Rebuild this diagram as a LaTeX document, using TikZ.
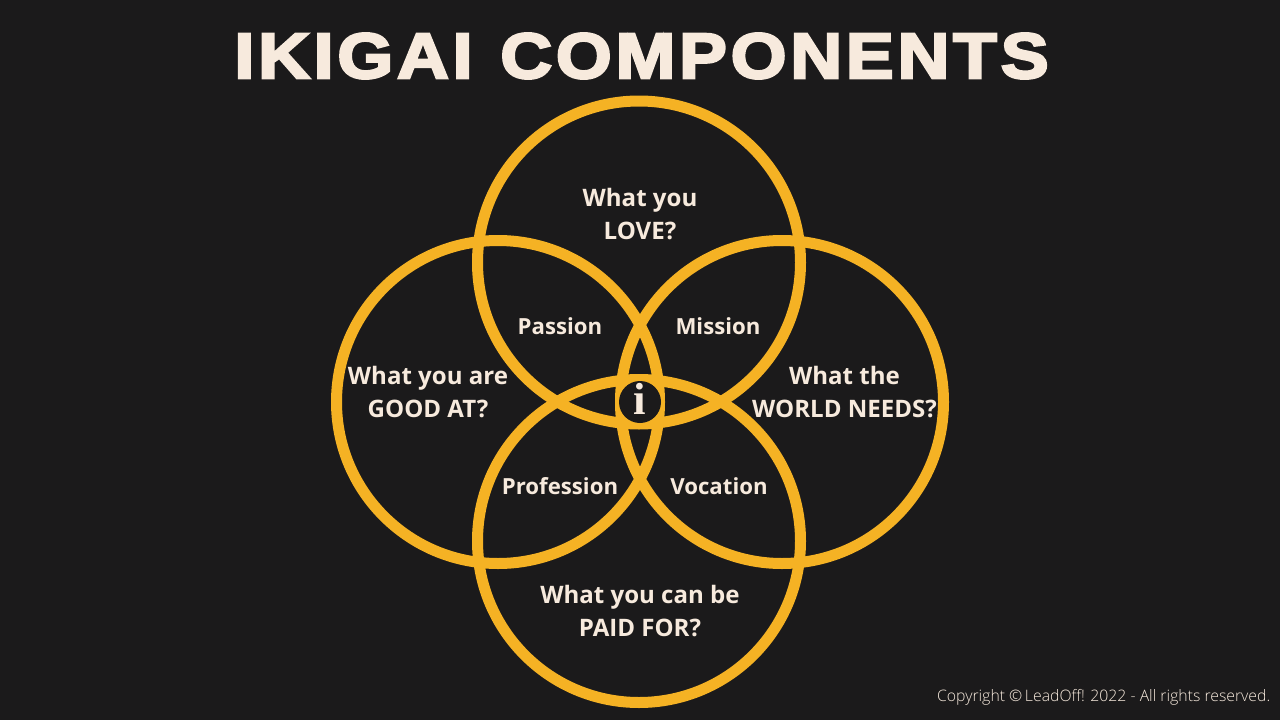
\documentclass[tikz,border=0pt]{standalone}
\usepackage{fontspec}
\setmainfont{Open Sans}
\newfontfamily\titlefont[LetterSpace=6,FakeBold=4,FakeStretch=1.12]{Liberation Sans Bold}
\newfontfamily\notefont{Open Sans Light}
\definecolor{ikibg}{HTML}{1B1A1B}
\definecolor{ikiring}{HTML}{F5B224}
\definecolor{ikitext}{HTML}{F7EADD}
\tikzset{
  ring/.style={draw=ikiring,line width=11pt,circle,minimum size=323pt,inner sep=0pt,outer sep=0pt},
  lbl/.style={text=ikitext,font=\fontsize{24.05}{33}\selectfont\bfseries,align=center,inner sep=0pt},
  sublbl/.style={text=ikitext,font=\fontsize{22.2}{30}\selectfont\bfseries,align=center,inner sep=0pt}
}
\begin{document}
\begin{tikzpicture}[x=1pt,y=-1pt]
  \fill[ikibg] (0,0) rectangle (1280,720);
  \useasboundingbox (0,0) rectangle (1280,720);
  \node[ring] (love) at (639,262.5) {};
  \node[ring] (good) at (498,402) {};
  \node[ring] (world) at (782,402) {};
  \node[ring] (paid) at (639,541) {};
  \node[circle,fill=ikibg,minimum size=42pt,inner sep=0pt] (hub) at (640,402) {};
  \node[text=ikitext,font=\fontsize{45}{45}\selectfont] (info) at (640,399) {\fontspec{Liberation Serif Bold}i};
  \node[text=ikitext,font=\titlefont\fontsize{64}{64}\selectfont] (title) at (641.5,56) {IKIGAI\hspace{4pt} COMPONENTS};
  \node[lbl] (lovetxt) at (640,214) {What you\\LOVE?};
  \node[lbl] (goodtxt) at (428,392) {What you are\\GOOD AT?};
  \node[lbl] (worldtxt) at (844.5,392) {What the\\WORLD NEEDS?};
  \node[lbl] (paidtxt) at (640,611) {What you can be\\PAID FOR?};
  \node[sublbl] (passion) at (560,326) {Passion};
  \node[sublbl] (mission) at (718,326) {Mission};
  \node[sublbl] (profession) at (560,486) {Profession};
  \node[sublbl] (vocation) at (719,486) {Vocation};
  \node[anchor=east,text=ikitext,inner sep=0pt,font=\notefont\fontsize{15.8}{16}\selectfont] (note) at (1270.5,697) {Copyright \textcopyright\,LeadOff! 2022 - All rights reserved.};
\end{tikzpicture}
\end{document}
